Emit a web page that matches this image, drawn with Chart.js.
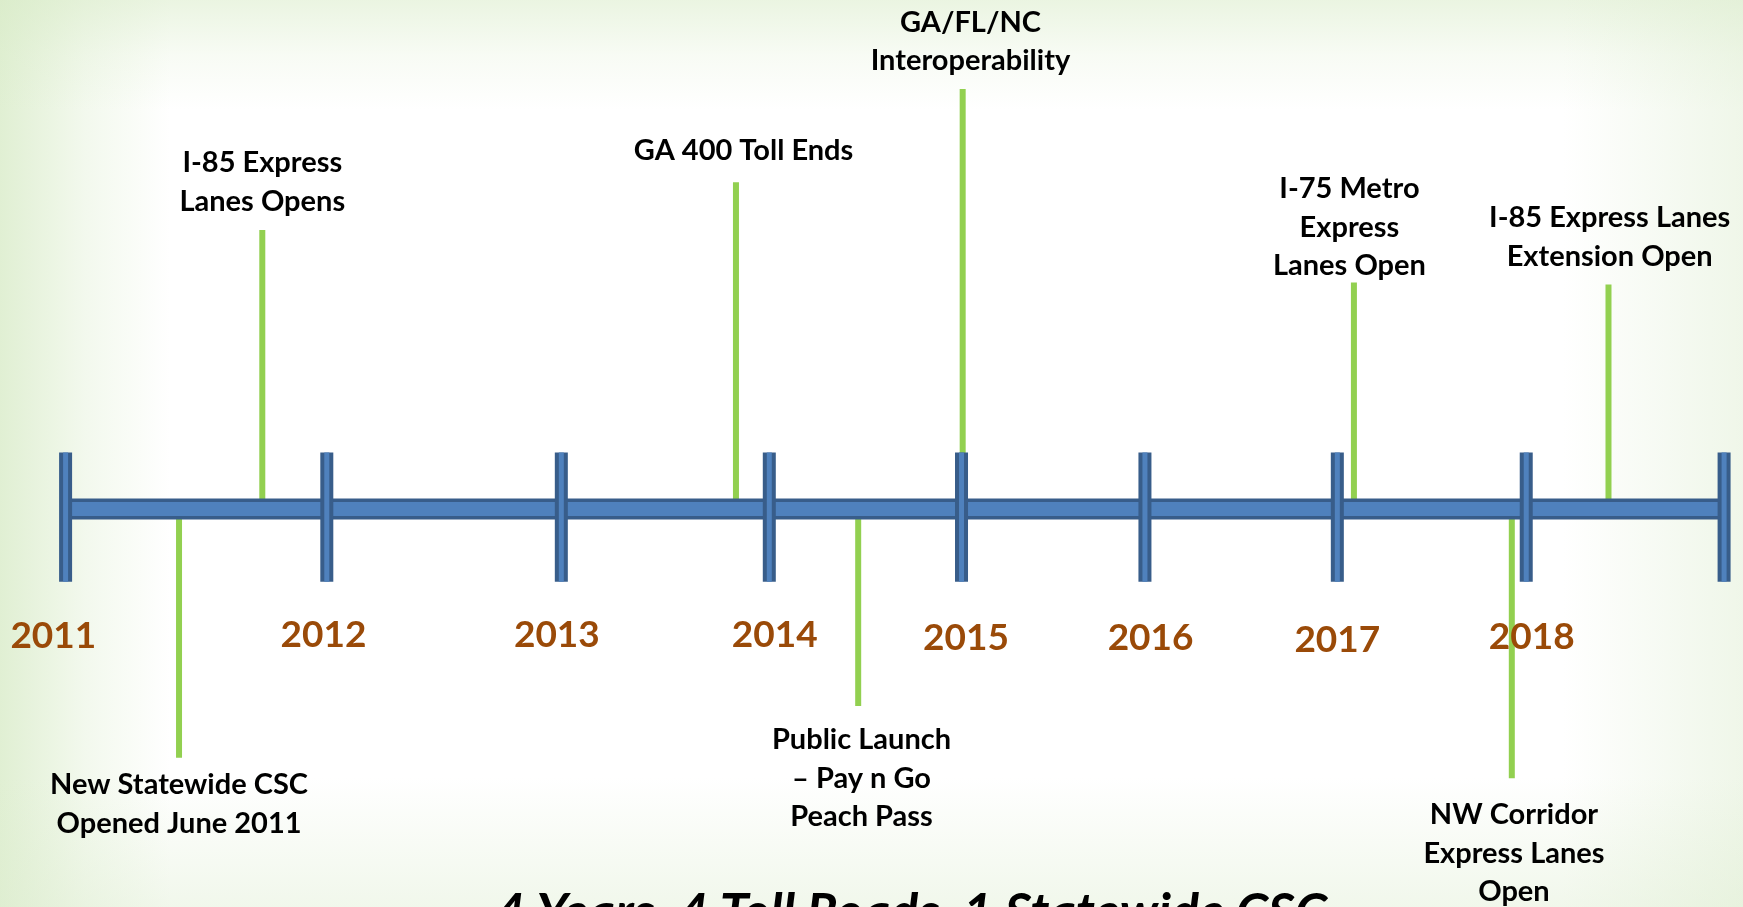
<!DOCTYPE html>
<html>
<head>
<meta charset="utf-8">
<script src="https://cdn.jsdelivr.net/npm/chart.js@4/dist/chart.umd.min.js"></script>
<style>
  html, body { margin: 0; padding: 0; background: #fff; overflow: hidden; }
</style>
</head>
<body>
<canvas id="timeline" width="1743" height="907"></canvas>
<script>
// positions along the timeline, in % of its length (0 = left end, 100 = right end)
var yearLabels = ['2011', '2012', '2013', '2014', '2015', '2016', '2017', '2018'];
var yearTickPos = [0, 15.75, 29.89, 42.43, 54.02, 65.08, 76.68, 88.07, 100];
var yearLabelPos = [-0.74, 15.55, 29.62, 42.76, 54.29, 65.42, 76.68, 88.4];
var yearLabelY = [-24.9, -24.7, -24.7, -24.7, -25.3, -25.3, -25.8, -25.1];

// events: where the stem meets the bar, and how far up (+) or down (-) it goes
var eventNames = [
    ['I-85 Express', 'Lanes Opens'],
    ['New Statewide CSC', 'Opened June 2011'],
    ['GA 400 Toll Ends'],
    ['Public Launch', '\u2013 Pay n Go', 'Peach Pass'],
    ['GA/FL/NC', 'Interoperability'],
    ['I-75 Metro', 'Express', 'Lanes Open'],
    ['NW Corridor', 'Express Lanes', 'Open'],
    ['I-85 Express Lanes', 'Extension Open']
];
var eventPos = [11.86, 6.84, 40.42, 47.79, 54.09, 77.68, 87.2, 93.03];
var eventStem = [54.8, -48.9, 64.2, -38.7, 82.5, 44.5, -52.9, 44.1];
var eventLabelPos = [11.86, 6.84, 40.88, 47.99, 54.56, 77.41, 87.33, 93.1];
var eventLabelY = [68.0, -54.2, 70.5, -45.4, 95.6, 62.9, -60.1, 57.2];

var tickTop = 11.1;
var tickBottom = -14.3;
var titleText = '4 Years, 4 Toll Roads, 1 Statewide CSC';

// build line segments separated by gaps
var stemPoints = [];
for (var i = 0; i < eventPos.length; i++) {
    stemPoints.push({x: eventPos[i], y: 0});
    stemPoints.push({x: eventPos[i], y: eventStem[i]});
    stemPoints.push({x: eventPos[i], y: null});
}
var tickPoints = [];
for (var i = 0; i < yearTickPos.length; i++) {
    tickPoints.push({x: yearTickPos[i], y: tickBottom});
    tickPoints.push({x: yearTickPos[i], y: tickTop});
    tickPoints.push({x: yearTickPos[i], y: null});
}
var barPoints = [{x: yearTickPos[0], y: 0}, {x: yearTickPos[yearTickPos.length - 1], y: 0}];

// soft green edges like the slide background
var slideBackground = {
    id: 'slideBackground',
    beforeDraw: function (chart) {
        var c = chart.ctx, w = chart.width, h = chart.height;
        c.save();
        c.fillStyle = '#ffffff';
        c.fillRect(0, 0, w, h);
        var g = c.createLinearGradient(0, 0, 170, 0);
        g.addColorStop(0, 'rgba(214,234,196,0.75)');
        g.addColorStop(0.5, 'rgba(214,234,196,0.3)');
        g.addColorStop(1, 'rgba(214,234,196,0)');
        c.fillStyle = g;
        c.fillRect(0, 0, 170, h);
        g = c.createLinearGradient(0, 0, 0, 110);
        g.addColorStop(0, 'rgba(214,234,196,0.5)');
        g.addColorStop(0.5, 'rgba(214,234,196,0.18)');
        g.addColorStop(1, 'rgba(214,234,196,0)');
        c.fillStyle = g;
        c.fillRect(0, 0, w, 110);
        g = c.createLinearGradient(w - 180, 0, w, 0);
        g.addColorStop(0, 'rgba(220,236,206,0)');
        g.addColorStop(1, 'rgba(220,236,206,0.45)');
        c.fillStyle = g;
        c.fillRect(w - 180, 0, 180, h);
        g = c.createLinearGradient(0, h - 130, 0, h);
        g.addColorStop(0, 'rgba(220,236,206,0)');
        g.addColorStop(1, 'rgba(220,236,206,0.4)');
        c.fillStyle = g;
        c.fillRect(0, h - 130, w, 130);
        c.restore();
    }
};

var timelineText = {
    id: 'timelineText',
    afterDatasetsDraw: function (chart) {
        var c = chart.ctx;
        var xs = chart.scales.x, ys = chart.scales.y;
        c.save();
        c.textAlign = 'center';
        c.textBaseline = 'middle';

        c.fillStyle = '#9a4a08';
        c.font = 'bold 37px Lato';
        for (var i = 0; i < yearLabels.length; i++) {
            c.fillText(yearLabels[i], xs.getPixelForValue(yearLabelPos[i]), ys.getPixelForValue(yearLabelY[i]));
        }

        c.fillStyle = '#000000';
        c.font = 'bold 29px Lato';
        for (var i = 0; i < eventNames.length; i++) {
            var x = xs.getPixelForValue(eventLabelPos[i]);
            var y = ys.getPixelForValue(eventLabelY[i]);
            for (var j = 0; j < eventNames[i].length; j++) {
                c.fillText(eventNames[i][j], x, y + j * 38.4);
            }
        }

        c.font = 'italic bold 52px Lato';
        c.textBaseline = 'top';
        c.fillText(titleText, 911, 887);
        c.restore();
    }
};

var ctx = document.getElementById('timeline').getContext('2d');
var chart = new Chart(ctx, {
    type: 'scatter',
    data: {
        datasets: [
            {
                // tick inner stripe
                data: tickPoints, showLine: true, spanGaps: false,
                borderColor: '#4f81bd', borderWidth: 5, borderCapStyle: 'butt',
                pointRadius: 0, order: 0
            },
            {
                // tick outline
                data: tickPoints, showLine: true, spanGaps: false,
                borderColor: '#385d8a', borderWidth: 13, borderCapStyle: 'butt',
                pointRadius: 0, order: 1
            },
            {
                // bar inner
                data: barPoints, showLine: true,
                borderColor: '#4f81bd', borderWidth: 14, borderCapStyle: 'butt',
                pointRadius: 0, order: 2
            },
            {
                // bar outline
                data: barPoints, showLine: true,
                borderColor: '#385d8a', borderWidth: 21, borderCapStyle: 'butt',
                pointRadius: 0, order: 3
            },
            {
                // event stems
                data: stemPoints, showLine: true, spanGaps: false,
                borderColor: '#92d050', borderWidth: 6, borderCapStyle: 'butt',
                pointRadius: 0, order: 4
            }
        ]
    },
    options: {
        responsive: false,
        animation: false,
        layout: { padding: 0 },
        scales: {
            x: { type: 'linear', min: -3.955, max: 101.14, display: false },
            y: { type: 'linear', min: -78.2, max: 100, display: false }
        },
        plugins: {
            legend: { display: false },
            tooltip: { enabled: false }
        }
    },
    plugins: [slideBackground, timelineText]
});
</script>
</body>
</html>
